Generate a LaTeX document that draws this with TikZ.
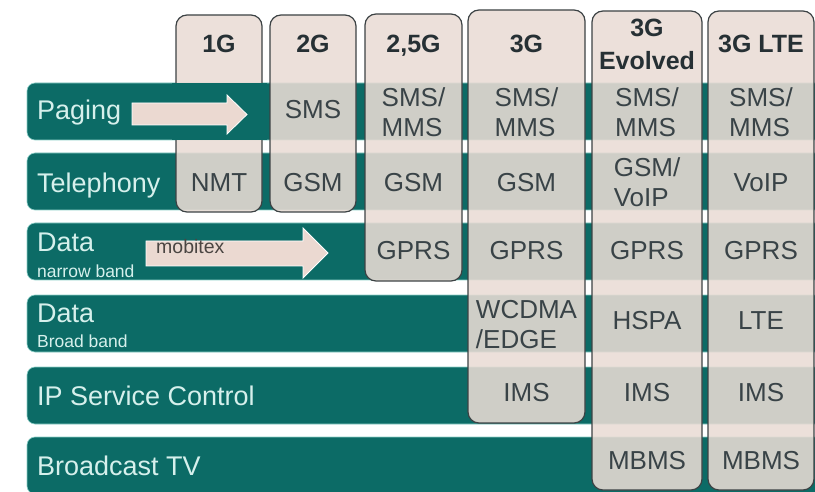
\documentclass[tikz,border=0pt]{standalone}
\usepackage{fontspec}
\setmainfont{Liberation Sans}
\usetikzlibrary{positioning}

\definecolor{bandteal}{HTML}{0C6B66}
\definecolor{bandedge}{HTML}{8CCFC8}
\definecolor{colbeige}{HTML}{EADCD5}
\definecolor{colline}{HTML}{3C4244}
\definecolor{cellink}{HTML}{394347}
\definecolor{headink}{HTML}{263034}
\definecolor{bandink}{HTML}{D6F0EC}
\definecolor{arrowfill}{HTML}{EBD9D1}
\definecolor{arrowink}{HTML}{4A4542}

\begin{document}
\begin{tikzpicture}[%
x=1pt,y=-1pt,
band/.style={
fill=bandteal,
draw=bandedge,
line width=0.6pt,
rounded corners=8pt,},
gen/.style={
fill=colbeige,
fill opacity=0.88,
draw=colline,
line width=1.2pt,
rounded corners=11pt,},
blockarrow/.style={
fill=arrowfill,
draw=white,
line width=0.8pt,},
bandlabel/.style={
anchor=base west,
inner sep=0pt,
text=bandink,
font=\fontsize{27}{30}\selectfont,},
bandsmall/.style={
bandlabel,
font=\fontsize{17.5}{20}\selectfont,},
head/.style={
inner sep=0pt,
text=headink,
font=\fontsize{25}{33}\selectfont\bfseries,},
cell/.style={
inner sep=0pt,
align=left,
text=cellink,
font=\fontsize{26}{30}\selectfont,}
]
\useasboundingbox (0,0) rectangle (815,492);
\fill[white] (0,0) rectangle (815,492);

\foreach \y in {83,153,223,295,367,437}
  \path[band] (27,\y) rectangle (840,\y+57);

\path[gen] (176,15) rectangle (262,212);
\path[gen] (270,15) rectangle (356,212);
\path[gen] (365,14) rectangle (462,281);
\path[gen] (468,10) rectangle (585,423);
\path[gen] (592,11) rectangle (702,490);
\path[gen] (708,11) rectangle (814,490);

% paging band runs over the 1G column
\fill[bandteal] (172,83.3) rectangle (267,139.7);

\path[blockarrow] (132,103) -- (227,103) -- (227,95) -- (247,114.5)
  -- (227,134) -- (227,125) -- (132,125) -- cycle;
\path[blockarrow] (146,241) -- (303,241) -- (303,228) -- (328,253)
  -- (303,278) -- (303,266) -- (146,266) -- cycle;

\node[bandlabel] (paging) at (37,120) {Paging};
\node[bandlabel] (tel) at (37,193) {Telephony};
\node[bandlabel] (narrow) at (37,252) {Data};
\node[bandsmall] (narrowsub) at (37,277) {narrow band};
\node[bandlabel] (broad) at (37,323) {Data};
\node[bandsmall] (broadsub) at (37,347) {Broad band};
\node[bandlabel] (ipsc) at (37,405) {IP Service Control};
\node[bandlabel] (tv) at (37,475) {Broadcast TV};
\node[anchor=base west,inner sep=0pt,text=arrowink,
  font=\fontsize{19.5}{22}\selectfont] (mobitex) at (156,254) {mobitex};

\node[head,anchor=base] (g1) at (219,53) {1G};
\node[head,anchor=base] (g2) at (313,53) {2G};
\node[head,anchor=base] (g25) at (413.5,53) {2,5G};
\node[head,anchor=base] (g3) at (526.5,53) {3G};
\node[head,align=center] (g3e) at (647,44.5) {3G\\Evolved};
\node[head,anchor=base] (g3l) at (761,53) {3G LTE};

\node[cell] (sms2) at (313,110) {SMS};
\node[cell] (sms25) at (413.5,112.5) {SMS/\\MMS};
\node[cell] (sms3) at (526.5,112.5) {SMS/\\MMS};
\node[cell] (sms3e) at (647,112.5) {SMS/\\MMS};
\node[cell] (sms3l) at (761,112.5) {SMS/\\MMS};

\node[cell] (nmt) at (219,183) {NMT};
\node[cell] (gsm2) at (313,183) {GSM};
\node[cell] (gsm25) at (413.5,183) {GSM};
\node[cell] (gsm3) at (526.5,183) {GSM};
\node[cell] (voip3e) at (647,182.5) {GSM/\\VoIP};
\node[cell] (voip3l) at (761,183) {VoIP};

\node[cell] (gprs25) at (413.5,251) {GPRS};
\node[cell] (gprs3) at (526.5,251) {GPRS};
\node[cell] (gprs3e) at (647,251) {GPRS};
\node[cell] (gprs3l) at (761,251) {GPRS};

\node[cell] (wcdma) at (526.5,325) {WCDMA\\/EDGE};
\node[cell] (hspa) at (647,321) {HSPA};
\node[cell] (lte) at (761,321) {LTE};

\node[cell] (ims3) at (526.5,392.5) {IMS};
\node[cell] (ims3e) at (647,392.5) {IMS};
\node[cell] (ims3l) at (761,392.5) {IMS};

\node[cell] (mbms3e) at (647,461) {MBMS};
\node[cell] (mbms3l) at (761,461) {MBMS};
\end{tikzpicture}
\end{document}
